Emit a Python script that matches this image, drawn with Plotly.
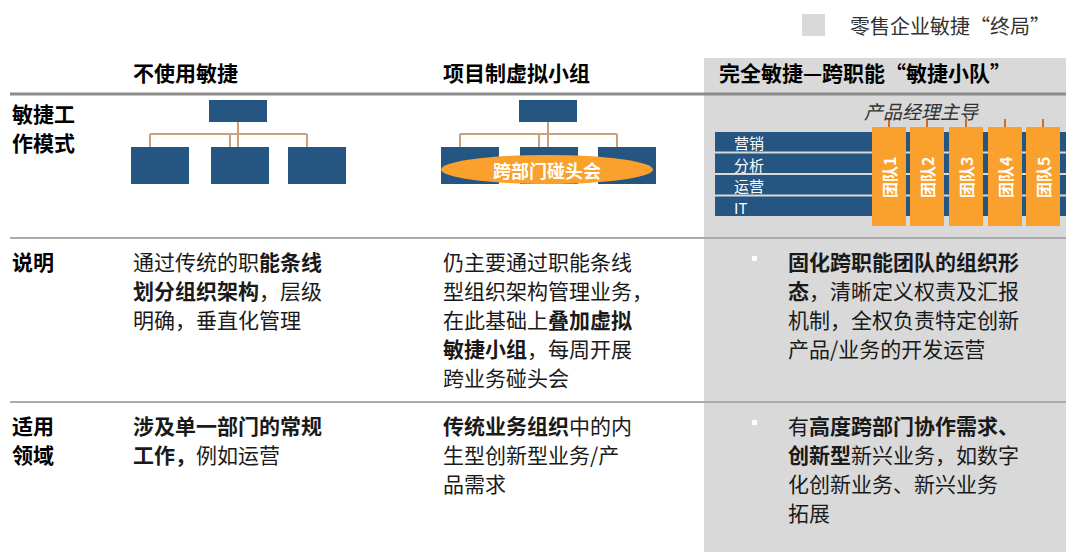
import plotly.graph_objects as go

W, H = 1074, 552
OFF = 8  # default page body margin of the html page
FONT = "Noto Sans CJK SC"

# ---------------- content ----------------
legend_label = "零售企业敏捷“终局”"
column_titles = ["不使用敏捷", "项目制虚拟小组", "完全敏捷—跨职能“敏捷小队”"]
row_labels = [["敏捷工", "作模式"], ["说明"], ["适用", "领域"]]
meeting_label = "跨部门碰头会"
pm_label = "产品经理主导"
function_labels = ["营销", "分析", "运营", "IT"]
team_labels = ["团队1", "团队2", "团队3", "团队4", "团队5"]

desc_col1 = ["通过传统的职<b>能条线</b>", "<b>划分组织架构</b>，层级", "明确，垂直化管理"]
desc_col2 = ["仍主要通过职能条线", "型组织架构管理业务，", "在此基础上<b>叠加虚拟</b>",
             "<b>敏捷小组</b>，每周开展", "跨业务碰头会"]
desc_col3 = ["<b>固化跨职能团队的组织形</b>", "<b>态</b>，清晰定义权责及汇报",
             "机制，全权负责特定创新", "产品/业务的开发运营"]

scope_col1 = ["<b>涉及单一部门的常规</b>", "<b>工作，</b>例如运营"]
scope_col2 = ["<b>传统业务组织</b>中的内", "生型创新型业务/产", "品需求"]
scope_col3 = ["有<b>高度跨部门协作需求、</b>", "<b>创新型</b>新兴业务，如数字",
              "化创新业务、新兴业务", "拓展"]

# ---------------- style ----------------
NAVY = "#245681"
ORANGE = "#F9A12C"
TAN = "#C9A27C"
PANEL = "#D9D9D9"
TEXT = "#1A1A1A"

shapes = []
ann = []

def rect(x0, y0, x1, y1, color, layer="above"):
    shapes.append(dict(type="rect", x0=x0, x1=x1, y0=y0, y1=y1, fillcolor=color,
                       line=dict(width=0), layer=layer))

def seg(x0, y0, x1, y1, color, width):
    shapes.append(dict(type="line", x0=x0, x1=x1, y0=y0, y1=y1,
                       line=dict(color=color, width=width), layer="above"))

def text(x, y, s, size=21, color=TEXT, xanchor="left", angle=0):
    ann.append(dict(x=x, y=y, text=s, showarrow=False, xanchor=xanchor, yanchor="middle",
                    textangle=angle, font=dict(family=FONT, size=size, color=color)))

# grey panel (target column)
rect(704, 58, W + OFF, H + OFF, PANEL, layer="below")

# legend
rect(802, 14, 825, 36, PANEL)
text(848, 25, legend_label, size=20, color="#333333")

# column titles
title_x = [131, 441, 717]
for x, t in zip(title_x, column_titles):
    text(x, 72, f"<b>{t}</b>", size=21, color="#000000")

# row separators
seg(10, 94, W + OFF, 94, "#8C8C8C", 3)
seg(10, 238, W + OFF, 238, "#ABABAB", 2)
seg(10, 402, W + OFF, 402, "#ABABAB", 2)

# row labels
row_y0 = [113, 261, 425]
LINE = 29
for y0, lines in zip(row_y0, row_labels):
    for i, s in enumerate(lines):
        text(10, y0 + i * LINE, f"<b>{s}</b>", size=21, color="#000000")

# ---------- org chart helper ----------
def org_chart(top_x0, bottom_x0s, box_w=58):
    rect(top_x0, 100, top_x0 + box_w, 122, NAVY)
    cx = top_x0 + box_w / 2
    centers = [b + box_w / 2 for b in bottom_x0s]
    seg(cx, 122, cx, 147, TAN, 2)
    seg(centers[0] - 10, 134, centers[-1] - 10, 134, TAN, 2)
    for c in centers:
        seg(c - 10, 134, c - 10, 147, TAN, 2)
    for b in bottom_x0s:
        rect(b, 147, b + box_w, 184, NAVY)

org_chart(209, [131, 211, 288])
org_chart(519, [441, 520, 598])
shapes.append(dict(type="circle", x0=441, x1=653, y0=155, y1=184, fillcolor=ORANGE,
                   line=dict(width=0), layer="above"))
text(547, 170, f"<b>{meeting_label}</b>", size=18, color="white", xanchor="center")

# ---------- cross-functional squads ----------
text(921, 110, f"<i>{pm_label}</i>", size=19, color="#333333", xanchor="center")
bar_top = 132
bar_h = 19.5
bar_gap = 2
for i, f in enumerate(function_labels):
    y0 = bar_top + i * (bar_h + bar_gap)
    rect(715, y0, 1068, y0 + bar_h, NAVY)
    text(732, y0 + bar_h / 2 + 1, f, size=15, color="white")

team_x0 = [872, 910, 949, 988, 1026]
team_w = 34
for x0, t in zip(team_x0, team_labels):
    cx = x0 + team_w / 2
    seg(cx, 119, cx, 127, "#D2691E", 2)
    rect(x0, 127, x0 + team_w, 226, ORANGE)
    text(cx, 178, f"<b>{t}</b>", size=16, color="white", xanchor="center", angle=-90)

# ---------- description row ----------
body_x = [131, 441, 786]
for x, lines in zip(body_x, [desc_col1, desc_col2, desc_col3]):
    for i, s in enumerate(lines):
        text(x, row_y0[1] + i * LINE, s)
rect(752, 256, 757, 261, "white")

# ---------- scope row ----------
for x, lines in zip(body_x, [scope_col1, scope_col2, scope_col3]):
    for i, s in enumerate(lines):
        text(x, row_y0[2] + i * LINE, s)
rect(752, 420, 757, 425, "white")

fig = go.Figure()
fig.update_layout(
    width=W, height=H, margin=dict(l=0, r=0, t=0, b=0),
    paper_bgcolor="white", plot_bgcolor="white",
    xaxis=dict(range=[OFF, W + OFF], visible=False, fixedrange=True),
    yaxis=dict(range=[H + OFF, OFF], visible=False, fixedrange=True),
    shapes=shapes, annotations=ann, showlegend=False,
)
fig.write_html("out.html")
